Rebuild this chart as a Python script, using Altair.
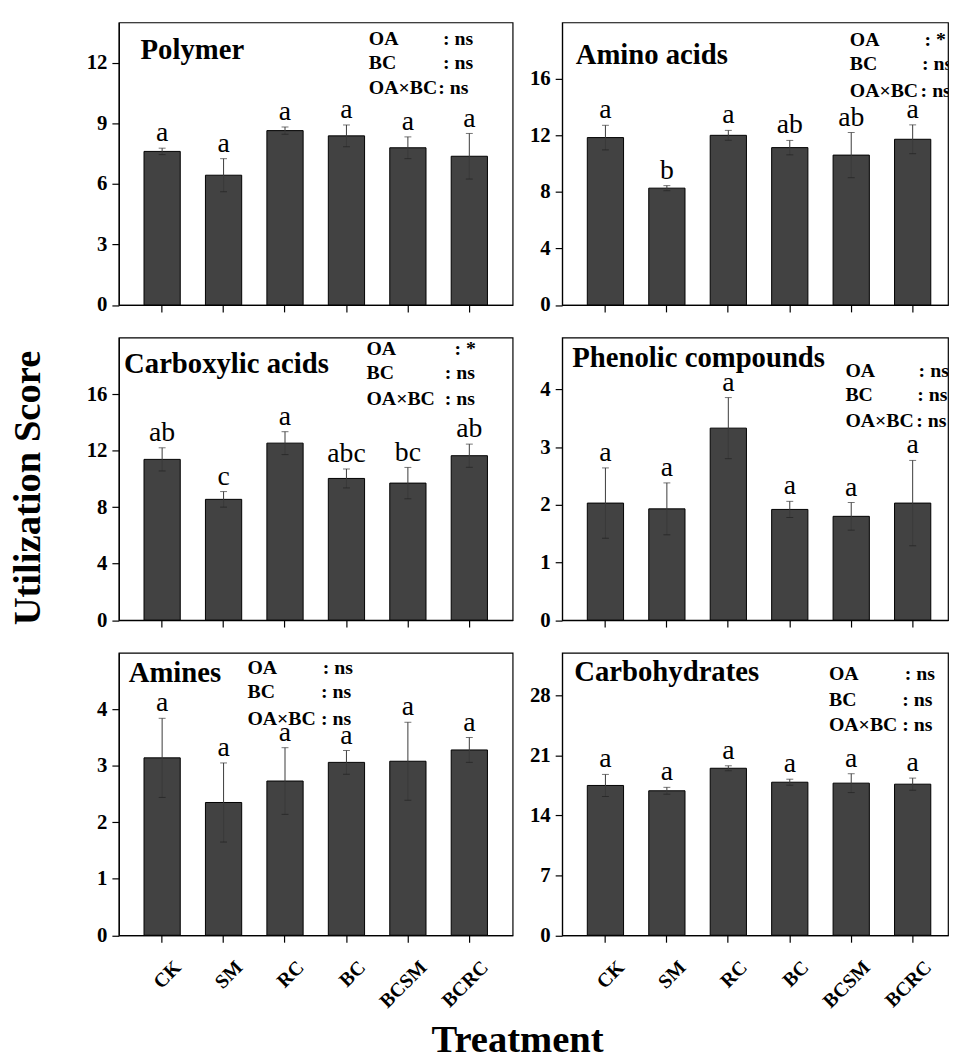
import altair as alt
import pandas as pd

FONT = "Liberation Serif"

treatments = ["CK", "SM", "RC", "BC", "BCSM", "BCRC"]
panel_titles = ["Polymer", "Amino acids", "Carboxylic acids",
                "Phenolic compounds", "Amines", "Carbohydrates"]

polymer_mean = [7.61, 6.43, 8.64, 8.38, 7.79, 7.37]
polymer_se = [0.16, 0.82, 0.18, 0.54, 0.54, 1.13]
polymer_letters = ["a", "a", "a", "a", "a", "a"]

amino_mean = [11.85, 8.27, 12.01, 11.14, 10.61, 11.73]
amino_se = [0.87, 0.18, 0.35, 0.51, 1.60, 1.02]
amino_letters = ["a", "b", "a", "ab", "ab", "a"]

carboxylic_mean = [11.38, 8.55, 12.53, 10.03, 9.70, 11.64]
carboxylic_se = [0.82, 0.55, 0.81, 0.67, 1.11, 0.82]
carboxylic_letters = ["ab", "c", "a", "abc", "bc", "ab"]

phenolic_mean = [2.03, 1.93, 3.33, 1.92, 1.80, 2.03]
phenolic_se = [0.61, 0.45, 0.53, 0.14, 0.24, 0.74]
phenolic_letters = ["a", "a", "a", "a", "a", "a"]

amines_mean = [3.14, 2.35, 2.73, 3.06, 3.08, 3.28]
amines_se = [0.70, 0.70, 0.59, 0.21, 0.69, 0.22]
amines_letters = ["a", "a", "a", "a", "a", "a"]

carbo_mean = [17.50, 16.88, 19.51, 17.88, 17.77, 17.65]
carbo_se = [1.29, 0.40, 0.29, 0.35, 1.10, 0.71]
carbo_letters = ["a", "a", "a", "a", "a", "a"]

y_max = [14, 20, 20, 4.9, 5, 33]
y_ticks = [[0, 3, 6, 9, 12], [0, 4, 8, 12, 16], [0, 4, 8, 12, 16],
           [0, 1, 2, 3, 4], [0, 1, 2, 3, 4], [0, 7, 14, 21, 28]]

effect_names = ["OA", "BC", "OA×BC"]
effect_sig = [["ns", "ns", "ns"], ["*", "ns", "ns"], ["*", "ns", "ns"],
              ["ns", "ns", "ns"], ["ns", "ns", "ns"], ["ns", "ns", "ns"]]

means = [polymer_mean, amino_mean, carboxylic_mean, phenolic_mean, amines_mean, carbo_mean]
ses = [polymer_se, amino_se, carboxylic_se, phenolic_se, amines_se, carbo_se]
letters = [polymer_letters, amino_letters, carboxylic_letters,
           phenolic_letters, amines_letters, carbo_letters]

# layout (pixel positions relative to each panel's plot area)
layout = [
    dict(title=(22, 37.3), lab_x=252.7, val_x=[327.7, 327.7, 322.7], rows_y=[22.3, 47.3, 72.3]),
    dict(title=(13.7, 41.7), lab_x=290.7, val_x=[366.3, 363.7, 362.3], rows_y=[23.3, 48.3, 75.0]),
    dict(title=(5.3, 35.3), lab_x=250.3, val_x=[339.3, 329.3, 329.3], rows_y=[17.7, 42.0, 68.3]),
    dict(title=(10.3, 29.3), lab_x=286.3, val_x=[360.3, 359.0, 358.0], rows_y=[39.3, 64.3, 90.3]),
    dict(title=(10.0, 29.4), lab_x=130.0, val_x=[206.0, 204.3, 204.3], rows_y=[21.0, 46.0, 72.7]),
    dict(title=(12.3, 28.4), lab_x=269.7, val_x=[346.3, 343.7, 343.7], rows_y=[27.7, 53.4, 79.4]),
]

ONE = pd.DataFrame({"k": [0]})


def text_at(txt, x, y, size, weight="bold", align="left", angle=0, clip=False):
    return alt.Chart(ONE).mark_text(
        font=FONT, fontSize=size, fontWeight=weight, align=align,
        baseline="alphabetic", angle=angle, clip=clip, color="black"
    ).encode(x=alt.value(x), y=alt.value(y), text=alt.value(txt))


def panel(i):
    col = i % 2
    row = i // 2
    df = pd.DataFrame({"Treatment": treatments, "mean": means[i], "se": ses[i],
                       "letter": letters[i]})
    df["lo"] = df["mean"] - df["se"]
    df["hi"] = df["mean"] + df["se"]

    if col == 0:
        width = 398
        xscale = alt.Scale(domain=treatments, paddingInner=0.41, paddingOuter=0.41)
    else:
        width = 390
        xscale = alt.Scale(domain=treatments, paddingInner=0.41, paddingOuter=0.345, align=0.594)

    bottom = row == 2
    xaxis = alt.Axis(title=None, labels=bottom, labelAngle=-45, labelAlign="right",
                     labelBaseline="middle", labelPadding=22, labelOffset=16,
                     labelFont=FONT, labelFontSize=20, labelFontWeight="bold",
                     tickSize=7, grid=False)
    yscale = alt.Scale(domain=[0, y_max[i]], nice=False, zero=True)
    yaxis = alt.Axis(title=None, values=y_ticks[i], tickSize=7, labelPadding=5,
                     labelFont=FONT, labelFontSize=21, labelFontWeight="bold", grid=False)

    base = alt.Chart(df).encode(
        x=alt.X("Treatment:N", scale=xscale, axis=xaxis, sort=treatments))
    bars = base.mark_bar(color="#424242", stroke="black", strokeWidth=1).encode(
        y=alt.Y("mean:Q", scale=yscale, axis=yaxis))
    rule = base.mark_rule(color="#3a3a3a", strokeWidth=1).encode(
        y=alt.Y("lo:Q", scale=yscale, axis=yaxis), y2="hi:Q")
    cap_hi = base.mark_tick(color="#3a3a3a", thickness=1, size=7).encode(
        y=alt.Y("hi:Q", scale=yscale, axis=yaxis))
    cap_lo = base.mark_tick(color="#222222", thickness=1, size=7).encode(
        y=alt.Y("lo:Q", scale=yscale, axis=yaxis))
    lett = base.mark_text(font=FONT, fontSize=28, baseline="alphabetic", dy=-7,
                          color="black").encode(
        y=alt.Y("hi:Q", scale=yscale, axis=yaxis), text="letter:N")

    L = layout[i]
    layers = [bars, rule, cap_hi, cap_lo, lett,
              text_at(panel_titles[i], L["title"][0], L["title"][1], 29)]
    for r in range(3):
        layers.append(text_at(effect_names[r], L["lab_x"], L["rows_y"][r], 20, clip=True))
        layers.append(text_at(": " + effect_sig[i][r], L["val_x"][r], L["rows_y"][r], 20, clip=True))

    if i == 2:
        layers.append(text_at("Utilization Score", -79.8, 152, 39, angle=270, align="center"))
    if i == 4:
        layers.append(text_at("Treatment", 403, 403, 39, align="center"))

    return alt.layer(*layers).properties(width=width, height=285.5)


chart = alt.concat(
    *[panel(i) for i in range(6)], columns=2,
    spacing=alt.RowColnumber(row=32.5, column=50), bounds="flush"
).properties(
    padding={"left": 0, "top": 8, "right": 0, "bottom": 0},
    background="white"
).configure_view(
    stroke="black", strokeWidth=1.2
).configure_axis(
    domainColor="black", domainWidth=1.2, tickColor="black", tickWidth=1.2,
    labelColor="black"
)

chart.save("out.html", embed_options={"renderer": "svg", "actions": False})
